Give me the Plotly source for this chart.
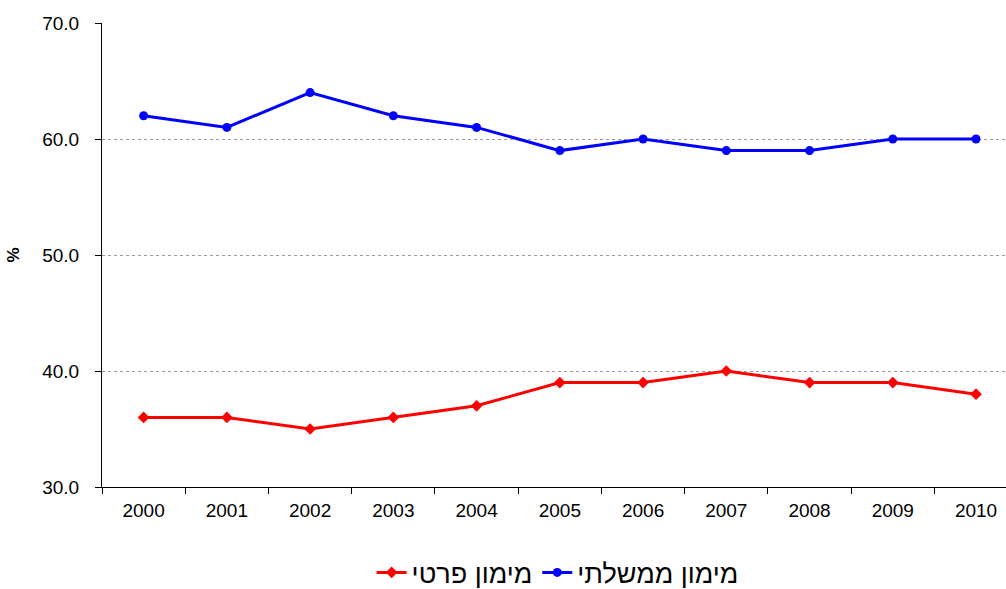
import plotly.graph_objects as go

years = ["2000", "2001", "2002", "2003", "2004", "2005", "2006", "2007", "2008", "2009", "2010"]
private_funding = [36, 36, 35, 36, 37, 39, 39, 40, 39, 39, 38]
public_funding = [62, 61, 64, 62, 61, 59, 60, 59, 59, 60, 60]
name_private = "מימון פרטי"
name_public = "מימון ממשלתי"

fig = go.Figure()
fig.add_trace(go.Scatter(x=years, y=private_funding, name=name_private, mode="lines+markers",
                         line=dict(color="#FF0000", width=3),
                         marker=dict(symbol="diamond", size=9, color="#FF0000")))
fig.add_trace(go.Scatter(x=years, y=public_funding, name=name_public, mode="lines+markers",
                         line=dict(color="#0000FF", width=3),
                         marker=dict(symbol="circle", size=9, color="#0000FF")))

fig.update_layout(
    width=1006, height=589,
    margin=dict(l=102, r=0, t=23, b=102, autoexpand=False),
    paper_bgcolor="white", plot_bgcolor="white",
    font=dict(family="Liberation Sans, Arial", size=19, color="black"),
    showlegend=True,
    legend=dict(orientation="h", x=0.504, xanchor="center", yref="paper", y=-0.185,
                yanchor="middle", font=dict(size=27), traceorder="normal"),
    xaxis=dict(type="category", range=[-0.5, 10.36], showline=True, linecolor="black",
               linewidth=1, ticks="outside", tickson="boundaries", ticklen=6,
               tickcolor="black", showgrid=False, zeroline=False, ticklabelstandoff=6),
    yaxis=dict(range=[30, 70], dtick=10, tickformat=".1f", showline=True, linecolor="black",
               linewidth=1, ticks="outside", ticklen=6, tickcolor="black",
               showgrid=True, gridcolor="#999999", gridwidth=1, griddash="dot",
               zeroline=False, ticklabelstandoff=12,
               title=dict(text="<b>%</b>", font=dict(size=17), standoff=18)),
)
fig.write_html("out.html")
